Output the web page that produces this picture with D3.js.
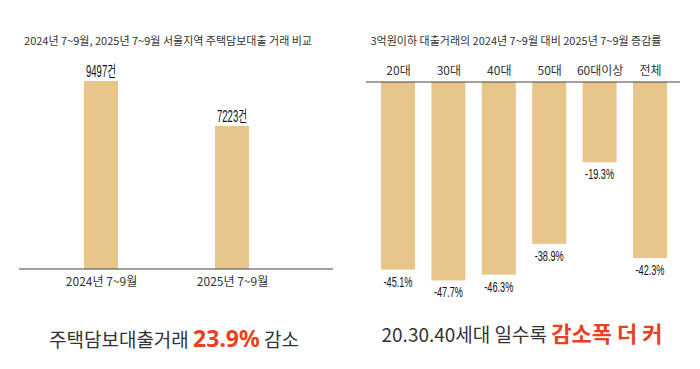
<!DOCTYPE html>
<html>
<head>
<meta charset="utf-8">
<script src="https://cdn.jsdelivr.net/npm/d3@7"></script>
<style>
  body { margin: 0; background: #fff; }
  svg { display: block; font-family: "Noto Sans CJK KR", "Noto Sans", sans-serif; }
</style>
</head>
<body>
<div id="app"></div>
<script>
const width = 700;
const height = 369;

const periods = ["2024년 7~9월", "2025년 7~9월"];
const loanCounts = [9497, 7223];

const ageGroups = ["20대", "30대", "40대", "50대", "60대이상", "전체"];
const changeRates = [-45.1, -47.7, -46.3, -38.9, -19.3, -42.3];

const barColor = "#e8c58b";
const red = "#e8411e";
const ink = "#333";
const numFont = "'Liberation Sans', 'Noto Sans CJK KR', sans-serif";

const svg = d3.select("#app").append("svg")
  .attr("width", width).attr("height", height)
  .attr("viewBox", `0 0 ${width} ${height}`);

// left chart
const baseL = 269;
const xL = d3.scalePoint().domain(periods).range([101, 232]);
const yL = d3.scaleLinear().domain([0, 10000]).range([baseL, baseL - 198]);

svg.append("text")
  .attr("x", 168).attr("y", 45)
  .attr("text-anchor", "middle")
  .style("font-size", "11px").style("fill", ink)
  .text("2024년 7~9월, 2025년 7~9월 서울지역 주택담보대출 거래 비교");

svg.selectAll("rect.left")
  .data(periods)
  .enter().append("rect")
  .attr("class", "left")
  .attr("x", (d) => xL(d) - 17)
  .attr("width", 34)
  .attr("y", (d, i) => yL(loanCounts[i]))
  .attr("height", (d, i) => baseL - yL(loanCounts[i]))
  .attr("fill", barColor);

svg.selectAll("text.cnt")
  .data(periods)
  .enter().append("text")
  .attr("class", "cnt")
  .attr("x", (d) => xL(d))
  .attr("y", (d, i) => yL(loanCounts[i]) - 4)
  .attr("text-anchor", "middle")
  .attr("textLength", 30)
  .attr("lengthAdjust", "spacingAndGlyphs")
  .style("font-family", numFont)
  .style("font-size", "16px").style("fill", "#111")
  .text((d, i) => loanCounts[i] + "건");

svg.append("g")
  .attr("transform", `translate(0, ${baseL})`)
  .call(d3.axisBottom(xL).tickSize(0).tickPadding(8))
  .call((g) => g.select(".domain").attr("d", "M19,0H333").attr("stroke", "#444").attr("stroke-width", 1.2))
  .call((g) => g.selectAll("text")
    .style("font-family", "'Noto Sans CJK KR', sans-serif")
    .style("font-size", "12px").style("fill", ink));

const leftNote = svg.append("text")
  .attr("x", 174).attr("y", 347)
  .attr("text-anchor", "middle")
  .style("font-size", "19px").style("fill", ink);
leftNote.append("tspan").text("주택담보대출거래 ");
leftNote.append("tspan").style("font-size", "23px").style("font-weight", "bold")
  .style("fill", red).style("font-family", "'Noto Sans', sans-serif").text("23.9%");
leftNote.append("tspan").text(" 감소");

// right chart
const baseR = 82;
const xR = d3.scalePoint().domain(ageGroups).range([398, 650]);
const yR = d3.scaleLinear().domain([0, -50]).range([baseR, baseR + 208]);

svg.append("text")
  .attr("x", 516).attr("y", 45)
  .attr("text-anchor", "middle")
  .style("font-size", "11px").style("fill", ink)
  .text("3억원이하 대출거래의 2024년 7~9월 대비 2025년 7~9월 증감률");

svg.selectAll("rect.right")
  .data(ageGroups)
  .enter().append("rect")
  .attr("class", "right")
  .attr("x", (d) => xR(d) - 17)
  .attr("width", 34)
  .attr("y", baseR)
  .attr("height", (d, i) => yR(changeRates[i]) - baseR)
  .attr("fill", barColor);

svg.selectAll("text.rate")
  .data(ageGroups)
  .enter().append("text")
  .attr("class", "rate")
  .attr("x", (d) => xR(d))
  .attr("y", (d, i) => yR(changeRates[i]) + 17)
  .attr("text-anchor", "middle")
  .attr("textLength", 29)
  .attr("lengthAdjust", "spacingAndGlyphs")
  .style("font-family", numFont)
  .style("font-size", "15px").style("fill", "#111")
  .text((d, i) => changeRates[i].toFixed(1) + "%");

svg.append("g")
  .attr("transform", `translate(0, ${baseR})`)
  .call(d3.axisTop(xR).tickSize(0).tickPadding(7))
  .call((g) => g.select(".domain").attr("d", "M366,0H680").attr("stroke", "#444").attr("stroke-width", 1.2))
  .call((g) => g.selectAll("text")
    .style("font-family", "'Noto Sans CJK KR', sans-serif")
    .style("font-size", "12px").style("fill", ink));

const rightNote = svg.append("text")
  .attr("x", 522).attr("y", 342)
  .attr("text-anchor", "middle")
  .style("font-size", "19px").style("fill", ink);
rightNote.append("tspan").text("20.30.40세대 일수록 ");
rightNote.append("tspan").style("font-size", "22px").style("font-weight", "bold")
  .style("fill", red).text("감소폭 더 커");
</script>
</body>
</html>
